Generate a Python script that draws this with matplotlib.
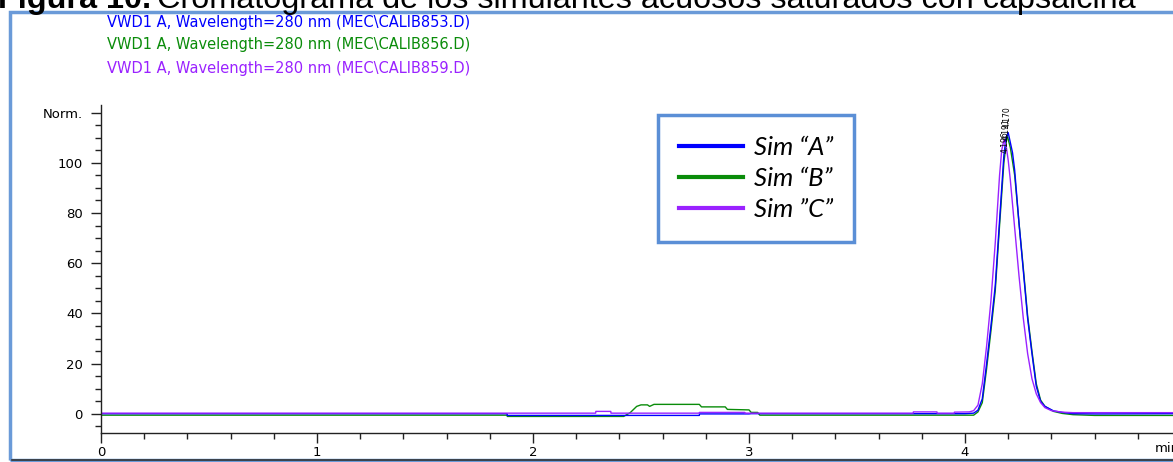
import matplotlib
matplotlib.use("Agg")
import matplotlib.pyplot as plt
import matplotlib.patches as patches
from matplotlib.lines import Line2D
from matplotlib.ticker import MultipleLocator

W, H = 1173, 462

# chromatogram traces (time in min, normalised signal)
t_a = [0.0, 1.88, 1.881, 2.77, 2.771, 3.0, 3.01, 4.00, 4.04, 4.06, 4.08, 4.10, 4.12, 4.14,
       4.16, 4.18, 4.19, 4.20, 4.21, 4.22, 4.23, 4.25, 4.27, 4.29, 4.31, 4.33, 4.35,
       4.37, 4.41, 4.45, 4.50, 4.61, 4.97]
y_a = [0.1, 0.1, -0.6, -0.6, 0.0, 0.0, 0.1, 0.1, 0.3, 1.5, 6.0, 20.0, 35.0, 51.0,
       77.0, 103.0, 110.0, 112.0, 108.0, 104.0, 97.0, 76.0, 57.0, 38.0, 24.0, 11.0, 5.0,
       3.0, 1.2, 0.6, 0.1, 0.0, 0.1]

t_b = [0.0, 1.88, 1.881, 2.42, 2.45, 2.48, 2.50, 2.53, 2.54, 2.56, 2.77, 2.78, 2.89,
       2.90, 3.00, 3.01, 3.04, 3.05, 4.04, 4.06, 4.08, 4.10, 4.12, 4.14, 4.16, 4.18,
       4.195, 4.21, 4.23, 4.25, 4.27, 4.29, 4.31, 4.33, 4.35, 4.37, 4.41, 4.45, 4.50,
       4.60, 4.97]
y_b = [-0.5, -0.5, -1.0, -1.0, 0.5, 3.0, 3.6, 3.6, 3.0, 3.8, 3.8, 2.8, 2.8,
       1.8, 1.6, 0.6, 0.6, -0.5, -0.5, 0.8, 4.5, 18.0, 33.0, 49.0, 75.0, 100.0,
       111.0, 106.0, 95.0, 76.0, 58.0, 39.0, 25.0, 12.0, 5.5, 3.0, 1.0, 0.2, -0.3,
       -0.6, -0.6]

t_c = [0.0, 2.29, 2.291, 2.36, 2.361, 2.77, 2.771, 2.98, 2.981, 3.76, 3.761, 3.87,
       3.871, 3.95, 3.951, 4.02, 4.04, 4.06, 4.08, 4.10, 4.12, 4.14, 4.16, 4.17, 4.18,
       4.19, 4.20, 4.21, 4.23, 4.25, 4.27, 4.29, 4.31, 4.33, 4.35, 4.37, 4.40, 4.45,
       4.50, 4.97]
y_c = [0.3, 0.3, 1.0, 1.0, 0.3, 0.3, 0.6, 0.6, 0.3, 0.3, 0.8, 0.8,
       0.3, 0.3, 0.7, 0.8, 1.3, 3.5, 12.0, 27.0, 45.0, 68.0, 95.0, 105.0, 109.0,
       107.0, 101.0, 93.0, 74.0, 55.0, 38.0, 24.0, 14.0, 8.0, 4.5, 2.5, 1.3, 0.7,
       0.5, 0.5]

series_names = ["Sim \u201cA\u201d", "Sim \u201cB\u201d", "Sim \u201dC\u201d"]
files = ["MEC\\CALIB853.D", "MEC\\CALIB856.D", "MEC\\CALIB859.D"]
peak_labels = ["4.196", "4.191", "4.170"]
colors = ["#0000ff", "#0a8c0a", "#9a22ff"]
x_ticks = [0, 1, 2, 3, 4]
y_ticks = [0, 20, 40, 60, 80, 100, 120]
y_tick_labels = ["0", "20", "40", "60", "80", "100", "Norm."]

fig = plt.figure(figsize=(W / 100, H / 100), dpi=100)

# axes placed in pixel terms of the reference
left, right = 101 / W, 1.0
bottom, top = 1 - 432.5 / H, 1 - 105 / H
ax = fig.add_axes([left, bottom, right - left, top - bottom])
ax.set_xlim(0, (W - 101) / 216)
ax.set_ylim(-7.4, 123)

ax.plot(t_b, y_b, color=colors[1], lw=1.0)
ax.plot(t_a, y_a, color=colors[0], lw=1.0)
ax.plot(t_c, y_c, color=colors[2], lw=1.0)

# stacked retention time labels over the peak
for i, lab in enumerate(peak_labels):
    ax.text(4.19 + (i - 1) * 0.004, 104 + i * 5, lab, rotation=90, fontsize=5.5,
            ha="center", va="bottom", color="black")

for s in ["top", "right"]:
    ax.spines[s].set_visible(False)
for s in ["left", "bottom"]:
    ax.spines[s].set_color("#222222")
    ax.spines[s].set_linewidth(1.0)

ax.set_xticks(x_ticks)
ax.set_xticklabels([str(v) for v in x_ticks])
ax.set_yticks(y_ticks)
ax.set_yticklabels(y_tick_labels)
ax.xaxis.set_minor_locator(MultipleLocator(0.2))
ax.yaxis.set_minor_locator(MultipleLocator(5))
ax.tick_params(which="major", length=7, width=1, color="#222222", labelsize=9.5, pad=3)
ax.tick_params(which="minor", length=4, width=1, color="#222222")
ax.tick_params(axis="y", which="major", pad=6)
ax.text(4.88, -11.0, "min", fontsize=9.5, ha="left", va="top", clip_on=False)

# trace headers
for i, f in enumerate(files):
    fig.text(107 / W, 1 - (22 + 23 * i) / H,
             "VWD1 A, Wavelength=280 nm (" + f + ")",
             color=colors[i], fontsize=10.5, va="center", ha="left")

# legend box
handles = [Line2D([], [], color=c, lw=3) for c in colors]
leg = fig.legend(handles, series_names, loc="upper left",
                 bbox_to_anchor=(658 / W, 1 - 115 / H), bbox_transform=fig.transFigure,
                 prop={"family": "Lato", "style": "italic", "size": 18.5},
                 handlelength=2.5, handletextpad=0.45, labelspacing=0.32,
                 borderpad=0.8, borderaxespad=0, fancybox=False, framealpha=1)
leg.get_frame().set_edgecolor("#5b8fd6")
leg.get_frame().set_linewidth(2.5)

# outer frame of the screenshot
frame = patches.Rectangle((10 / W, 1 - 460 / H), 1.05, (460 - 12) / H,
                          transform=fig.transFigure, fill=False,
                          edgecolor="#6a9ad8", lw=2.5, clip_on=False)
fig.patches.append(frame)
fig.add_artist(Line2D([12 / W, 1.0], [1 - 460 / H, 1 - 460 / H],
                      transform=fig.transFigure, color="#333333", lw=1.2))

# caption cut off at the top
cap_size = 23.3
t1 = fig.text(-2 / W, 1 - 8 / H, "Figura 10.", fontsize=cap_size, fontweight="bold",
              family="Liberation Sans", va="baseline", ha="left")
fig.canvas.draw()
bb = t1.get_window_extent()
fig.text((bb.x1 + 6) / W, 1 - 8 / H,
         "Cromatograma de los simulantes acuosos saturados con capsaicina",
         fontsize=cap_size, family="Liberation Sans", va="baseline", ha="left")

fig.savefig("out.png", dpi=100)
